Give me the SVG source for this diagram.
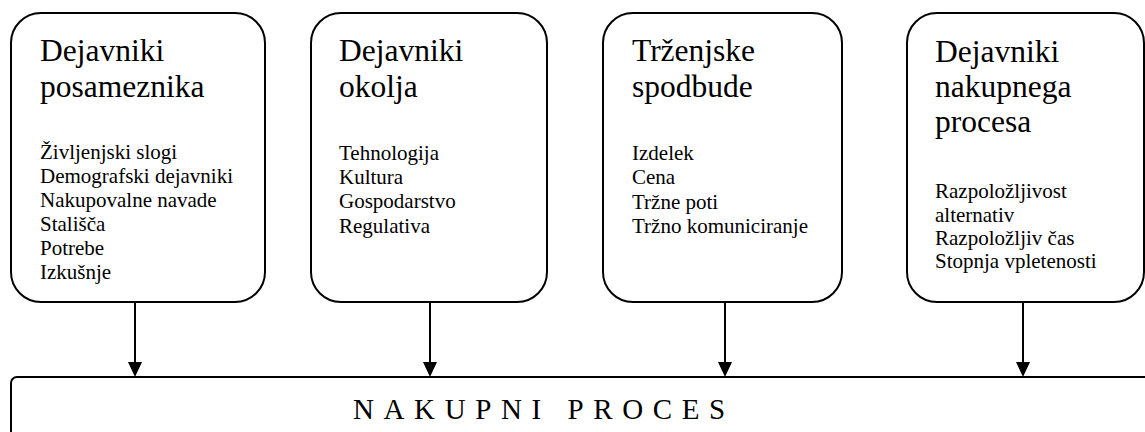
<svg xmlns="http://www.w3.org/2000/svg" width="1145" height="432" viewBox="0 0 1145 432">
<style>
.box{fill:#fff;stroke:#000;stroke-width:2}
.t{font-family:"Liberation Serif","Times New Roman",serif;fill:#000}
.title{font-size:31.5px}
.body{font-size:21px}
.conn{stroke:#000;stroke-width:2;fill:none}
.head{fill:#000}
</style>
<g id="n1">
<rect class="box" x="11" y="13" width="254" height="289" rx="30" ry="30"/>
<text class="t title" x="40" y="61">Dejavniki</text>
<text class="t title" x="40" y="97">posameznika</text>
<text class="t body" x="40" y="159">Življenjski slogi</text>
<text class="t body" x="40" y="183">Demografski dejavniki</text>
<text class="t body" x="40" y="207">Nakupovalne navade</text>
<text class="t body" x="40" y="231">Stališča</text>
<text class="t body" x="40" y="255">Potrebe</text>
<text class="t body" x="40" y="279">Izkušnje</text>
</g>
<g id="n2">
<rect class="box" x="311" y="13" width="236" height="289" rx="30" ry="30"/>
<text class="t title" x="339" y="61">Dejavniki</text>
<text class="t title" x="339" y="97">okolja</text>
<text class="t body" x="339" y="160">Tehnologija</text>
<text class="t body" x="339" y="184">Kultura</text>
<text class="t body" x="339" y="208">Gospodarstvo</text>
<text class="t body" x="339" y="233">Regulativa</text>
</g>
<g id="n3">
<rect class="box" x="603" y="13" width="239" height="289" rx="30" ry="30"/>
<text class="t title" x="632" y="61">Trženjske</text>
<text class="t title" x="632" y="97">spodbude</text>
<text class="t body" x="632" y="160">Izdelek</text>
<text class="t body" x="632" y="184">Cena</text>
<text class="t body" x="632" y="209">Tržne poti</text>
<text class="t body" x="632" y="233">Tržno komuniciranje</text>
</g>
<g id="n4">
<rect class="box" x="907" y="13" width="237" height="289" rx="30" ry="30"/>
<text class="t title" x="935" y="62">Dejavniki</text>
<text class="t title" x="935" y="97">nakupnega</text>
<text class="t title" x="935" y="132">procesa</text>
<text class="t body" x="935" y="198">Razpoložljivost</text>
<text class="t body" x="935" y="222">alternativ</text>
<text class="t body" x="935" y="245">Razpoložljiv čas</text>
<text class="t body" x="935" y="268">Stopnja vpletenosti</text>
</g>
<g id="n5">
<rect class="box" x="11" y="377" width="1150" height="80" rx="6" ry="6"/>
<text class="t" x="353" y="419" font-size="29" letter-spacing="9.6">NAKUPNI PROCES</text>
</g>
<g id="connectors">
<line class="conn" x1="135" y1="302" x2="135" y2="363"/>
<path class="head" d="M128,362 L142,362 L135,377 Z"/>
<line class="conn" x1="430" y1="302" x2="430" y2="363"/>
<path class="head" d="M423,362 L437,362 L430,377 Z"/>
<line class="conn" x1="725" y1="302" x2="725" y2="363"/>
<path class="head" d="M718,362 L732,362 L725,377 Z"/>
<line class="conn" x1="1023" y1="302" x2="1023" y2="363"/>
<path class="head" d="M1016,362 L1030,362 L1023,377 Z"/>
</g>
</svg>
